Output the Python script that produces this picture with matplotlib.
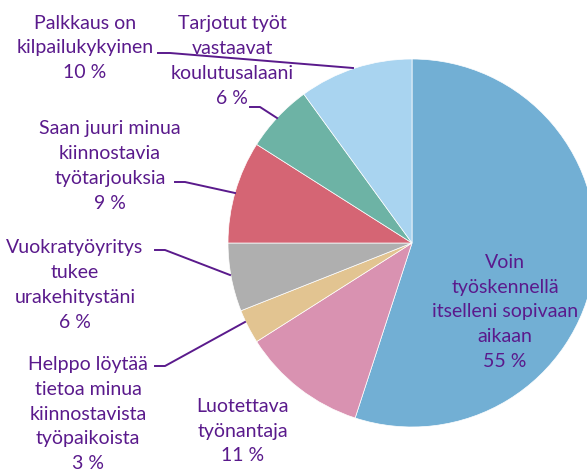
import matplotlib.pyplot as plt

# slice data, clockwise from 12 o'clock
labels = ["Voin\ntyöskennellä\nitselleni sopivaan\naikaan",
          "Luotettava\ntyönantaja",
          "Helppo löytää\ntietoa minua\nkiinnostavista\ntyöpaikoista",
          "Vuokratyöyritys\ntukee\nurakehitystäni",
          "Saan juuri minua\nkiinnostavia\ntyötarjouksia",
          "Tarjotut työt\nvastaavat\nkoulutusalaani",
          "Palkkaus on\nkilpailukykyinen"]
values = [55, 11, 3, 6, 9, 6, 10]
colors = ["#72afd4", "#d992b1", "#e2c491", "#afafaf", "#d56574", "#6db3a5", "#a9d4f0"]

# label anchor points (pixel coords, y from top)
label_pos = [(505, 312), (243, 431), (88, 414), (75, 285), (110, 166), (232, 61), (85, 48)]
# leader lines (pixel coords), None where the label sits on/near the slice
leaders = [None, None,
           [(155, 366), (165, 366), (245, 322)],
           [(155, 250), (165, 250), (230, 275)],
           [(175, 182), (185, 182), (235, 193)],
           [(250, 107), (260, 107), (277, 118)],
           [(158, 53), (170, 53), (353, 68)]]

W, H = 587, 473
txt = "#5a1a8c"

plt.rcParams['font.family'] = ['Lato', 'DejaVu Sans']
fig = plt.figure(figsize=(W / 100, H / 100), dpi=100)
ax = fig.add_axes([0, 0, 1, 1])

ax.pie(values, colors=colors, startangle=90, counterclock=False,
       center=(412, H - 243), radius=184, frame=True,
       wedgeprops=dict(edgecolor='white', linewidth=0.5))
ax.set_xlim(0, W)
ax.set_ylim(0, H)
ax.set_aspect('equal')
ax.axis('off')

for lab, v, (x, y), ld in zip(labels, values, label_pos, leaders):
    ax.text(x, H - y, f"{lab}\n{v} %", ha='center', va='center', color=txt,
            fontsize=14, linespacing=1.55)
    if ld:
        xs = [p[0] for p in ld]
        ys = [H - p[1] for p in ld]
        ax.plot(xs, ys, color=txt, lw=1.4)

fig.savefig("out.png", dpi=100)
